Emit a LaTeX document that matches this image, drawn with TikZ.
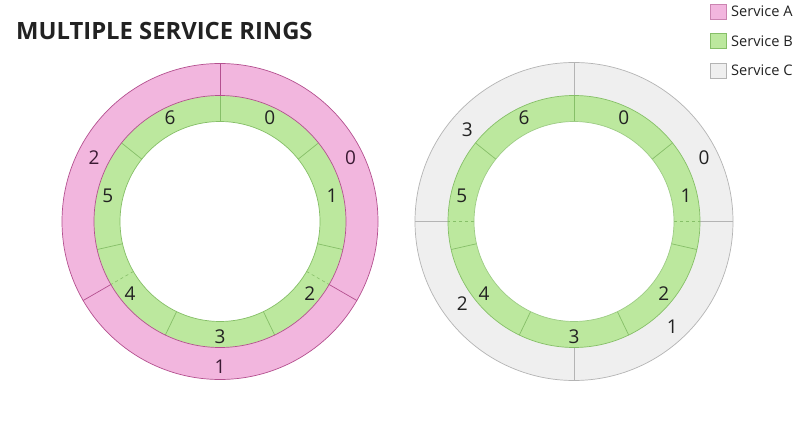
\documentclass[tikz,border=0pt]{standalone}
\usepackage{fontspec}
\setmainfont{Open Sans}
\definecolor{pinkfill}{HTML}{F2B6DE}
\definecolor{pinkline}{HTML}{B4508F}
\definecolor{greenfill}{HTML}{BCE89E}
\definecolor{greenline}{HTML}{86BF68}
\definecolor{greyfill}{HTML}{EFEFEF}
\definecolor{greyline}{HTML}{B4B4B4}
\definecolor{txt}{HTML}{222222}
\definecolor{ptxt}{HTML}{3A1A33}
\begin{document}
\begin{tikzpicture}[x=1pt,y=1pt,
  num/.style={font=\fontsize{19}{21}\selectfont, text=txt, inner sep=0pt},
  legtxt/.style={font=\fontsize{14.6}{16}\selectfont, text=txt, anchor=west, inner sep=0pt},
  legbox/.style={minimum width=16pt, minimum height=15pt, inner sep=0pt, line width=0.6pt}]
\useasboundingbox (0,-446) rectangle (801,0);
\fill[white] (0,-446) rectangle (801,0);

% title
\node[anchor=west, inner sep=0pt, font=\fontsize{23.8}{26}\selectfont\bfseries, text=txt] (title) at (16,-31) {MULTIPLE SERVICE RINGS};

% legend
\node[legbox, fill=pinkfill, draw=pinkline!70] (la) at (718,-11.5) {};
\node[legtxt] (lat) at (731,-11.5) {Service A};
\node[legbox, fill=greenfill, draw=greenline] (lb) at (718,-41) {};
\node[legtxt] (lbt) at (731,-41) {Service B};
\node[legbox, fill=greyfill, draw=greyline] (lc) at (718,-70.5) {};
\node[legtxt] (lct) at (731,-70.5) {Service C};

% ---------------- left ring ----------------
\coordinate (L) at (220,-221.5);
\fill[pinkfill, even odd rule] (L) circle (158) (L) circle (126);
\fill[greenfill, even odd rule] (L) circle (126) (L) circle (100);
\begin{scope}[shift={(L)}]
  \foreach \a in {90,-30,-150} \draw[pinkline, line width=0.7pt] (\a:126) -- (\a:158);
  \foreach \a in {-30,-150} \draw[greenline, dashed, line width=0.6pt] (\a:100) -- (\a:126);
  \foreach \k in {0,...,6} \draw[greenline, line width=0.7pt] ({90-\k*360/7}:100) -- ({90-\k*360/7}:126);
  \foreach \k in {0,...,6} \node[num] (lg\k) at ({90-(\k+0.5)*360/7}:115) {\k};
\end{scope}
\draw[greenline, line width=0.7pt] (L) circle (100);
\draw[pinkline, line width=0.7pt] (L) circle (126);
\draw[pinkline, line width=0.7pt] (L) circle (158);
\node[num, text=ptxt] (lp0) at (350.5,-157.3) {0};
\node[num, text=ptxt] (lp1) at (220,-366.7) {1};
\node[num, text=ptxt] (lp2) at (94,-157.3) {2};

% ---------------- right ring ----------------
\coordinate (R) at (574,-221.5);
\fill[greyfill, even odd rule] (R) circle (159) (R) circle (126);
\fill[greenfill, even odd rule] (R) circle (126) (R) circle (100);
\begin{scope}[shift={(R)}]
  \foreach \a in {90,0,-90,180} \draw[greyline, line width=0.7pt] (\a:126) -- (\a:159);
  \foreach \a in {0,180} \draw[greenline, dashed, line width=0.6pt] (\a:100) -- (\a:126);
  \foreach \k in {0,...,6} \draw[greenline, line width=0.7pt] ({90-\k*360/7}:100) -- ({90-\k*360/7}:126);
  \foreach \k in {0,...,6} \node[num] (rg\k) at ({90-(\k+0.5)*360/7}:115) {\k};
\end{scope}
\draw[greenline!80!white, line width=0.7pt] (R) circle (100);
\draw[greenline, line width=0.7pt] (R) circle (126);
\draw[greyline, line width=0.7pt] (R) circle (159);
\node[num] (rc0) at (704,-157.3) {0};
\node[num] (rc1) at (672.3,-326.7) {1};
\node[num] (rc2) at (462.3,-303.3) {2};
\node[num] (rc3) at (467.3,-130) {3};
\end{tikzpicture}
\end{document}
